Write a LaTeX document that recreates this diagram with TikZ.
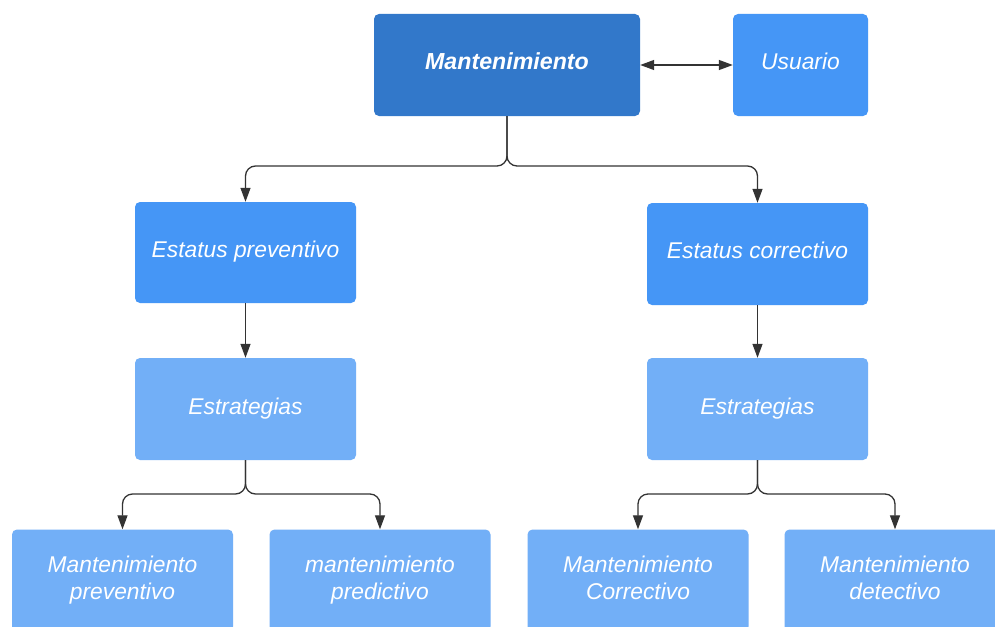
\documentclass[tikz,border=0pt]{standalone}
\usepackage{fontspec}
\setmainfont{Liberation Sans}
\usetikzlibrary{arrows.meta}

\definecolor{boxdark}{RGB}{50,120,202}
\definecolor{boxmid}{RGB}{69,150,246}
\definecolor{boxlight}{RGB}{114,175,247}
\definecolor{wire}{RGB}{51,51,51}

\tikzset{
  card/.style={rectangle, rounded corners=5pt, draw=none, text=white,
    font=\fontsize{22.8}{27}\selectfont\itshape, align=center,
    minimum width=221pt, minimum height=102pt, inner sep=0pt},
  oneline/.style={text height=16pt, text depth=6pt},
  topcard/.style={card, oneline, fill=boxdark, font=\fontsize{23.2}{27}\selectfont\bfseries\itshape},
  midcard/.style={card, oneline, fill=boxmid},
  lightcard/.style={card, fill=boxlight},
  tip/.tip={Triangle[length=14pt,width=10pt]},
  wirearrow/.style={draw=wire, line width=1.3pt, rounded corners=10pt, -tip},
  bothways/.style={draw=wire, line width=1.3pt, tip-tip}
}

\begin{document}
\begin{tikzpicture}[x=1pt,y=-1pt]
  \useasboundingbox (0,0) rectangle (995,626);
  \clip (0,0) rectangle (995,626);
  \fill[white] (0,0) rectangle (995,626);

  % top row
  \node[topcard, minimum width=266pt] (mant) at (507,65) {Mantenimiento};
  \node[midcard, minimum width=135pt] (usu) at (800.5,65) {Usuario};

  % status boxes
  \node[midcard, minimum height=101pt] (ep) at (245.5,252.5) {Estatus preventivo};
  \node[midcard, text depth=8pt] (ec) at (757.5,254) {Estatus correctivo};

  % strategy boxes
  \node[lightcard, oneline] (estl) at (245.5,409) {Estrategias};
  \node[lightcard, oneline] (estr) at (757.5,409) {Estrategias};

  % maintenance types
  \node[lightcard] (b1) at (122.5,580.5) {Mantenimiento\strut\\preventivo\strut};
  \node[lightcard] (b2) at (380,580.5) {mantenimiento\strut\\predictivo\strut};
  \node[lightcard] (b3) at (638,580.5) {Mantenimiento\strut\\Correctivo\strut};
  \node[lightcard] (b4) at (895,580.5) {Mantenimiento\strut\\detectivo\strut};

  % connectors
  \draw[bothways] (mant.east) -- (usu.west);

  \coordinate (split1) at (507,166);
  \draw[wirearrow] (mant.south) -- (split1) -| (ep.north);
  \draw[wirearrow] (mant.south) -- (split1) -| (ec.north);

  \draw[wirearrow] (ep.south) -- (estl.north);
  \draw[wirearrow] (ec.south) -- (estr.north);

  \coordinate (split2) at (245.5,494);
  \coordinate (split3) at (757.5,494);
  \draw[wirearrow] (estl.south) -- (split2) -| (b1.north);
  \draw[wirearrow] (estl.south) -- (split2) -| (b2.north);
  \draw[wirearrow] (estr.south) -- (split3) -| (b3.north);
  \draw[wirearrow] (estr.south) -- (split3) -| (b4.north);
\end{tikzpicture}
\end{document}
